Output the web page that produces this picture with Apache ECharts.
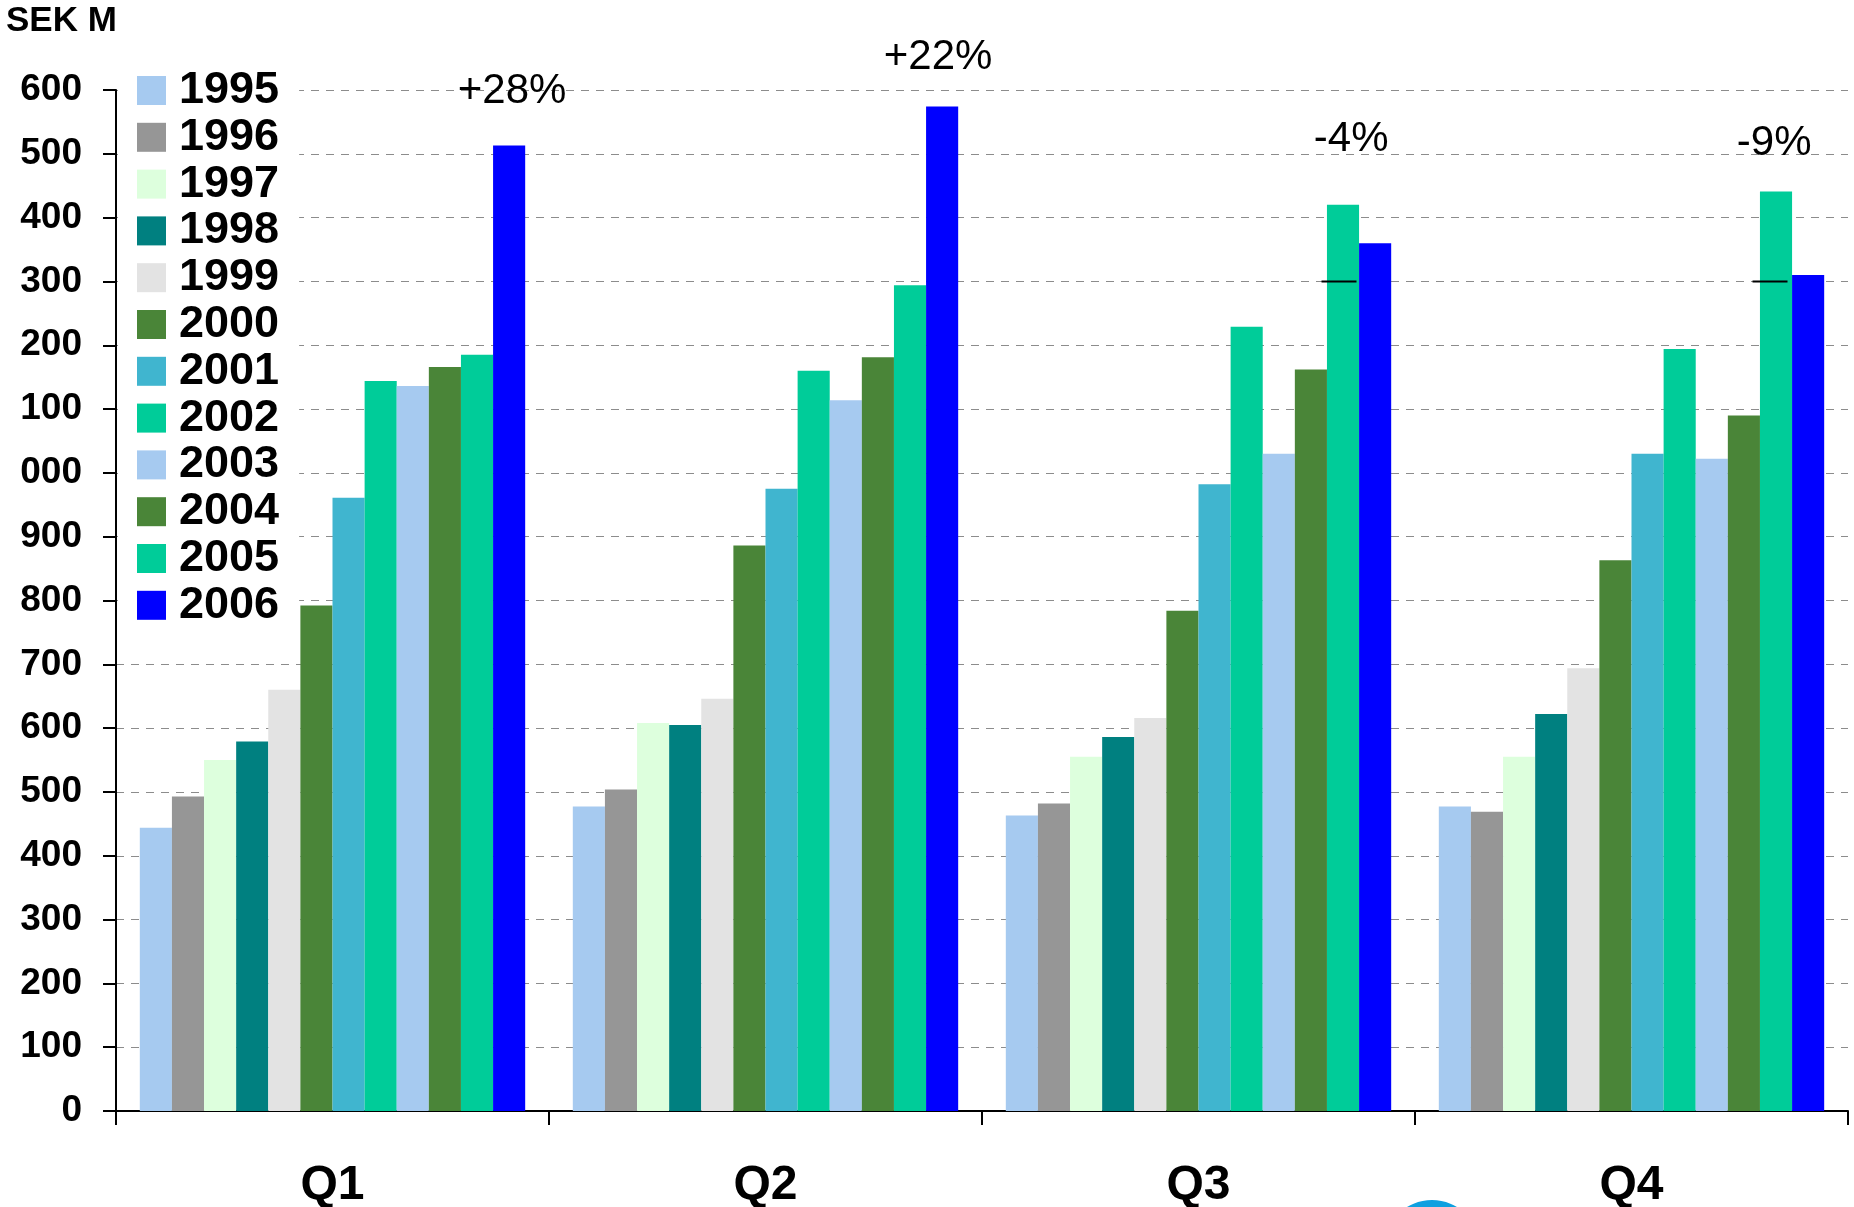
<!DOCTYPE html>
<html>
<head>
<meta charset="utf-8">
<script src="https://cdn.jsdelivr.net/npm/echarts@6/dist/echarts.min.js"></script>
<style>
  html, body { margin: 0; padding: 0; background: #ffffff; }
  #chart { width: 1854px; height: 1207px; }
</style>
</head>
<body>
<div id="chart"></div>
<script>
// Quarterly result, SEK M, one bar per year within each quarter
const quarters = ['Q1', 'Q2', 'Q3', 'Q4'];
const years = ['1995', '1996', '1997', '1998', '1999', '2000',
               '2001', '2002', '2003', '2004', '2005', '2006'];

const v1995 = [444, 477, 463, 477];
const v1996 = [493, 504, 482, 469];
const v1997 = [550, 608, 555, 555];
const v1998 = [579, 605, 586, 622];
const v1999 = [660, 646, 616, 694];
const v2000 = [792, 886, 784, 863];
const v2001 = [961, 975, 982, 1030];
const v2002 = [1144, 1160, 1229, 1194];
const v2003 = [1136, 1114, 1030, 1022];
const v2004 = [1166, 1181, 1162, 1090];
const v2005 = [1185, 1294, 1420, 1441];
const v2006 = [1513, 1574, 1360, 1310];

// Change 2006 vs 2005 per quarter
const growthLabels = ['+28%', '+22%', '-4%', '-9%'];
// Short reference marks drawn across the 2005 bars
const refMarks = [null, null, 1300, 1300];

// Axis tick labels (thousands digit dropped above 999)
const yTickLabels = ['0', '100', '200', '300', '400', '500', '600', '700', '800', '900',
                     '000', '100', '200', '300', '400', '500', '600'];

const yearValues = [v1995, v1996, v1997, v1998, v1999, v2000,
                    v2001, v2002, v2003, v2004, v2005, v2006];
const yearColors = ['#a6caf0', '#969696', '#ddffdd', '#008080', '#e3e3e3', '#4a8538',
                    '#40b5cf', '#00cc99', '#a6caf0', '#4a8538', '#00cc99', '#0000ff'];

const FONT = '"Liberation Sans", Arial, Helvetica, sans-serif';
const BAR_CATEGORY_GAP = 0.11;

// Pixel nudges for the annotation layer (text centre relative to the 2006 bar top)
const labelShift = [[3, -54], [-4, -49], [-24, -104], [-34, -132]];
const markShift = [0, 0, -4, -6];
const MARK_WIDTH = 35;

const barSeries = years.map((y, k) => ({
  name: y,
  type: 'bar',
  data: yearValues[k],
  barGap: '0%',
  barCategoryGap: (BAR_CATEGORY_GAP * 100) + '%',
  itemStyle: { color: yearColors[k] },
  emphasis: { disabled: true },
  animation: false
}));

const annotationSeries = {
  type: 'custom',
  name: 'annotations',
  silent: true,
  animation: false,
  z: 10,
  data: quarters.map((q, i) => [i, v2006[i]]),
  encode: { x: 0, y: 1 },
  renderItem: function (params, api) {
    const i = params.dataIndex;
    const band = api.size([1, 0])[0];
    const barW = band * (1 - BAR_CATEGORY_GAP) / years.length;
    const centre = api.coord([i, 0])[0];
    const x2005 = centre + 4.5 * barW;
    const x2006 = centre + 5.5 * barW;
    const top2006 = api.coord([i, v2006[i]])[1];
    const children = [{
      type: 'text',
      style: {
        text: growthLabels[i],
        x: x2006 + labelShift[i][0],
        y: top2006 + labelShift[i][1],
        align: 'center',
        verticalAlign: 'middle',
        font: '42px ' + FONT,
        fill: '#000000'
      }
    }];
    if (refMarks[i] != null) {
      const yMark = api.coord([i, refMarks[i]])[1];
      const cx = x2005 + markShift[i];
      children.push({
        type: 'line',
        shape: { x1: cx - MARK_WIDTH / 2, y1: yMark, x2: cx + MARK_WIDTH / 2, y2: yMark },
        style: { stroke: '#000000', lineWidth: 2 }
      });
    }
    return { type: 'group', children: children };
  }
};

const chart = echarts.init(document.getElementById('chart'), null, { renderer: 'canvas' });

chart.setOption({
  backgroundColor: '#ffffff',
  animation: false,
  title: {
    text: 'SEK M',
    left: 6,
    top: 4,
    padding: 0,
    textStyle: { fontFamily: FONT, fontWeight: 'bold', fontSize: 35, color: '#000000' }
  },
  legend: {
    data: years,
    orient: 'vertical',
    left: 118,
    top: 56,
    padding: [12, 20, 12, 19],
    backgroundColor: '#ffffff',
    icon: 'rect',
    itemWidth: 29,
    itemHeight: 29,
    itemGap: 1.8,
    selectedMode: false,
    textStyle: {
      fontFamily: FONT,
      fontWeight: 'bold',
      fontSize: 45,
      lineHeight: 44,
      color: '#000000',
      padding: [0, 0, 0, 8]
    }
  },
  grid: {
    left: 116, right: 6, top: 90, bottom: 96,
    containLabel: false,
    outerBoundsMode: 'none'
  },
  xAxis: {
    type: 'category',
    data: quarters,
    boundaryGap: true,
    axisLine: { show: true, lineStyle: { color: '#000000', width: 2 } },
    axisTick: { show: true, interval: 0, length: 14, lineStyle: { color: '#000000', width: 2 } },
    axisLabel: {
      margin: 51,
      fontFamily: FONT,
      fontWeight: 'bold',
      fontSize: 48,
      color: '#000000'
    },
    splitLine: { show: false }
  },
  yAxis: {
    type: 'value',
    min: 0,
    max: 1600,
    interval: 100,
    axisLine: { show: true, lineStyle: { color: '#000000', width: 2 } },
    axisTick: { show: true, length: 13, lineStyle: { color: '#000000', width: 2 } },
    axisLabel: {
      margin: 34,
      fontFamily: FONT,
      fontWeight: 'bold',
      fontSize: 37,
      color: '#000000',
      padding: [6, 0, 0, 0],
      formatter: function (v) { return yTickLabels[Math.round(v / 100)]; }
    },
    splitLine: {
      show: true,
      lineStyle: { color: '#8c8c8c', width: 1.2, type: [8, 7] }
    }
  },
  graphic: [{
    type: 'circle',
    silent: true,
    shape: { cx: 1432, cy: 1248, r: 48 },
    style: { fill: '#0ea0e0' },
    z: 0
  }],
  series: barSeries.concat([annotationSeries])
});
</script>
</body>
</html>
